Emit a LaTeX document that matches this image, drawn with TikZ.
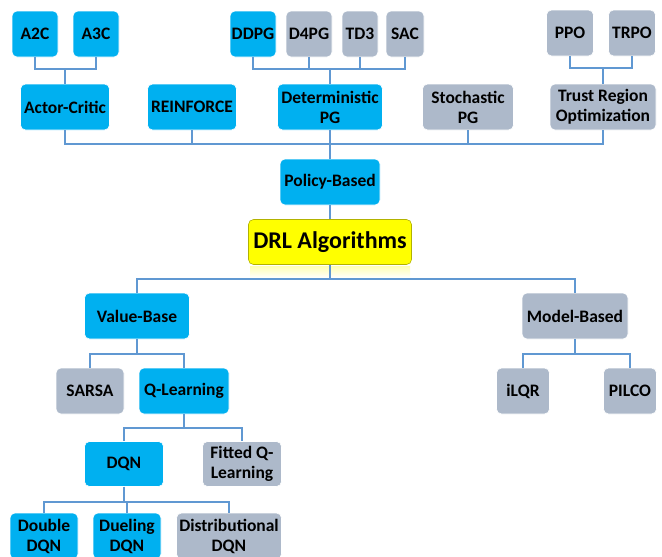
\documentclass[tikz,border=0pt]{standalone}
\usepackage{fontspec}
\setmainfont{Carlito}
\definecolor{algblue}{RGB}{0,176,240}
\definecolor{alggray}{RGB}{173,185,202}
\definecolor{algline}{RGB}{96,152,210}
\definecolor{algyellow}{RGB}{255,255,0}
\tikzset{
  algbox/.style={rounded corners=5pt, inner sep=0pt, align=center,
    minimum height=46pt, draw=white, line width=0.6pt,
    font=\bfseries\fontsize{17.5}{20}\selectfont},
  bluebox/.style={algbox, fill=algblue},
  graybox/.style={algbox, fill=alggray},
  link/.style={draw=algline, line width=2pt},
}

\begin{document}
\begin{tikzpicture}[x=1pt,y=-1pt]
\useasboundingbox (0,0) rectangle (662,557);
% policy-based branch
\node[bluebox, minimum width=46pt] (a2c)  at (35,34)  {A2C};
\node[bluebox, minimum width=46pt] (a3c)  at (96,34)  {A3C};
\node[bluebox, minimum width=46pt] (ddpg) at (253,34) {DDPG};
\node[graybox, minimum width=46pt] (d4pg) at (309,34) {D4PG};
\node[graybox, minimum width=36pt] (td3)  at (360,34) {TD3};
\node[graybox, minimum width=38pt] (sac)  at (405,34) {SAC};
\node[graybox, minimum width=47pt] (ppo)  at (570,33) {PPO};
\node[graybox, minimum width=47pt] (trpo) at (632,33) {TRPO};
\node[bluebox, minimum width=89pt]  (ac)   at (65,107)  {Actor-Critic};
\node[bluebox, minimum width=89pt]  (rf)   at (192,107) {REINFORCE};
\node[bluebox, minimum width=105pt] (dpg)  at (330,107) {Deterministic\\PG};
\node[graybox, minimum width=91pt]  (spg)  at (468,107) {Stochastic\\PG};
\node[graybox, minimum width=106pt] (tro)  at (603,107) {Trust Region\\Optimization};
\node[bluebox, minimum width=100pt] (pb)   at (330,182) {Policy-Based};
% root
\shade[top color=algyellow!30, bottom color=white] (250,266) rectangle (410,278);
\node[algbox, fill=algyellow, draw=algyellow!70!black, minimum width=163pt,
  minimum height=45pt, font=\bfseries\fontsize{24}{28}\selectfont] (drl) at (330,242) {DRL Algorithms};
% value-based and model-based branches
\node[bluebox, minimum width=105pt] (vb)    at (137,316) {Value-Base};
\node[graybox, minimum width=106pt] (mb)    at (575,316) {Model-Based};
\node[graybox, minimum width=68pt]  (sarsa) at (90,391)  {SARSA};
\node[bluebox, minimum width=90pt]  (ql)    at (184,391) {Q-Learning};
\node[graybox, minimum width=53pt]  (ilqr)  at (523,391) {iLQR};
\node[graybox, minimum width=53pt]  (pilco) at (630,391) {PILCO};
\node[bluebox, minimum width=79pt, minimum height=45pt] (dqn) at (124,464) {DQN};
\node[graybox, minimum width=79pt, minimum height=45pt] (fql) at (242,464) {Fitted Q-\\Learning};
\node[bluebox, minimum width=68pt]  (ddqn)  at (44,536)  {Double\\DQN};
\node[bluebox, minimum width=68pt]  (dudqn) at (127,536) {Dueling\\DQN};
\node[graybox, minimum width=105pt] (didqn) at (229,536) {Distributional\\DQN};
% connectors
\foreach \c in {a2c,a3c}
  \draw[link] (\c.south) -- ++(0,12) -| (ac.north);
\foreach \c in {ddpg,d4pg,td3,sac}
  \draw[link] (\c.south) -- ++(0,12) -| (dpg.north);
\foreach \c in {ppo,trpo}
  \draw[link] (\c.south) -- ++(0,12) -| (tro.north);
\foreach \c in {ac,rf,dpg,spg,tro}
  \draw[link] (\c.south) -- ++(0,14) -| (pb.north);
\draw[link] (pb.south) -- (drl.north);
\foreach \c in {vb,mb}
  \draw[link] (drl.south) -- ++(0,14) -| (\c.north);
\foreach \c in {sarsa,ql}
  \draw[link] (vb.south) -- ++(0,15) -| (\c.north);
\foreach \c in {ilqr,pilco}
  \draw[link] (mb.south) -- ++(0,15) -| (\c.north);
\foreach \c in {dqn,fql}
  \draw[link] (ql.south) -- ++(0,14) -| (\c.north);
\foreach \c in {ddqn,dudqn,didqn}
  \draw[link] (dqn.south) -- ++(0,15) -| (\c.north);
\end{tikzpicture}
\end{document}
